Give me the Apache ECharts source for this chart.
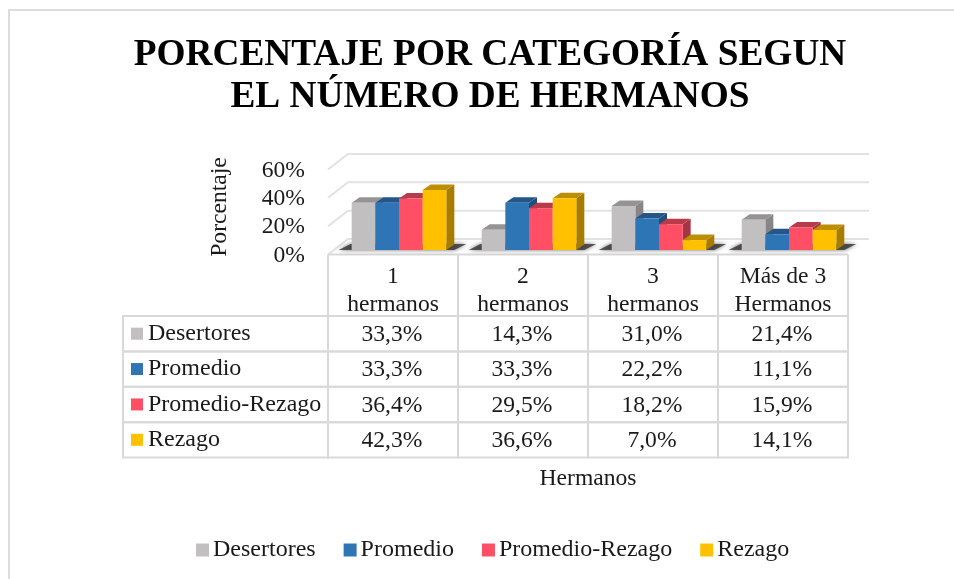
<!DOCTYPE html>
<html><head><meta charset="utf-8">
<style>html,body{margin:0;padding:0;background:#fff}#c{width:954px;height:579px}</style>
<script src="https://cdn.jsdelivr.net/npm/echarts@6/dist/echarts.min.js"></script>
</head><body><div id="c"></div>
<script>
const titleLines = ['PORCENTAJE POR CATEGORÍA SEGUN', 'EL NÚMERO DE HERMANOS'];
const categories = ['1\nhermanos', '2\nhermanos', '3\nhermanos', 'Más de 3\nHermanos'];
const seriesNames = ['Desertores', 'Promedio', 'Promedio-Rezago', 'Rezago'];
const desertores = [33.3, 14.3, 31.0, 21.4];
const promedio = [33.3, 33.3, 22.2, 11.1];
const promedioRezago = [36.4, 29.5, 18.2, 15.9];
const rezago = [42.3, 36.6, 7.0, 14.1];
const yTicks = [0, 20, 40, 60];
const seriesValues = [desertores, promedio, promedioRezago, rezago];
const frontColors = ['#C1BFC0', '#2E75B6', '#FF4F64', '#FFC000'];
const topColors = ['#959394', '#23578A', '#B93A4A', '#BC8E00'];
const sideColors = ['#878586', '#1F4E7B', '#A63443', '#A67D00'];

const FONT = '"Liberation Serif","Times New Roman",serif';
const INK = '#1a1a1a', GRID = '#D9D9D9';
const FS = 23.6, FS_NAME = 24;
const WALL_DX = 20, WALL_DY = 15.5;     // wall offset behind the front floor edge
const BAR_DX = 6, BAR_DY = 4.5;         // bars stand slightly inside the floor
const DEPTH_X = 8, DEPTH_Y = 5.5;       // bar depth
const BAR_FRAC = 0.182;

const poly = (points, fill, extra) => ({type: 'polygon', shape: {points}, style: Object.assign({fill}, extra || {})});

// back wall gridlines
function renderWall(params, api) {
  const cs = params.coordSys, left = cs.x, right = cs.x + cs.width;
  const y = api.coord([0, api.value(0)])[1];
  return {type: 'polyline', shape: {points: [[left, y], [left + WALL_DX, y - WALL_DY], [right + 21, y - WALL_DY]]},
    style: {stroke: '#E2E2E2', lineWidth: 2, fill: null}};
}

// soft shadow under each bar cluster
function renderShadow(params, api) {
  const c = api.coord([api.value(0), 0]);
  const band = api.size([1, 0])[0];
  const w = band * BAR_FRAC;
  const x0 = c[0] + BAR_DX - 2 * w, x1 = c[0] + BAR_DX + 2 * w;
  const yb = c[1] - BAR_DY;
  return poly([[x0 - 13, yb], [x0 - 1, yb - 6], [x1 + 20, yb - 6], [x1 + 8, yb]], 'rgba(60,60,60,0.85)',
    {shadowBlur: 4, shadowColor: 'rgba(60,60,60,0.9)'});
}

function renderBar(idx) {
  return function (params, api) {
    const c = api.coord([api.value(0), api.value(1)]);
    const b = api.coord([api.value(0), 0]);
    const band = api.size([1, 0])[0];
    const w = band * BAR_FRAC;
    const x0 = c[0] + BAR_DX + (idx - 2) * w, x1 = x0 + w;
    const yt = c[1] - BAR_DY, yb = b[1] - BAR_DY;
    const dx = DEPTH_X, dy = DEPTH_Y;
    return {type: 'group', children: [
      poly([[x1, yt], [x1 + dx, yt - dy], [x1 + dx, yb - dy], [x1, yb]], sideColors[idx]),
      poly([[x0, yt], [x0 + dx, yt - dy], [x1 + dx, yt - dy], [x1, yt]], topColors[idx]),
      {type: 'rect', shape: {x: x0, y: yt, width: w, height: yb - yt}, style: {fill: frontColors[idx]}}
    ]};
  };
}

const pct = v => v.toFixed(1).replace('.', ',') + '%';

// table body cells
function renderCell(params, api) {
  const col = api.value(0), row = api.value(1), v = api.value(2);
  const c = api.coord([col, row]);
  const s = api.size([1, 1]);
  return {type: 'group', children: [
    {type: 'rect', shape: {x: c[0] - s[0] / 2, y: c[1] - s[1] / 2, width: s[0], height: s[1]},
      style: {fill: null, stroke: GRID, lineWidth: 2}},
    {type: 'text', x: c[0] - 1, y: c[1] + 1, style: {text: pct(v), fill: INK, font: FS + 'px ' + FONT, align: 'center', verticalAlign: 'middle'}}
  ]};
}

// table row headers, to the left of the first column
function renderHeader(params, api) {
  const row = api.value(0);
  const cs = params.coordSys;
  const c = api.coord([0, row]);
  const h = api.size([1, 1])[1];
  const left = cs.x - 205;
  return {type: 'group', children: [
    {type: 'rect', shape: {x: left, y: c[1] - h / 2, width: 205, height: h}, style: {fill: null, stroke: GRID, lineWidth: 2}},
    {type: 'rect', shape: {x: left + 8, y: c[1] - 6, width: 12, height: 12}, style: {fill: frontColors[row]}},
    {type: 'text', x: left + 25, y: c[1], style: {text: seriesNames[row], fill: INK, font: FS_NAME + 'px ' + FONT, align: 'left', verticalAlign: 'middle'}}
  ]};
}

// header column separators between the floor and the table
function renderHeadCol(params, api) {
  const c = api.coord([api.value(0), 0]);
  const band = api.size([1, 0])[0];
  const x = c[0] - band / 2;
  return {type: 'group', children: [
    {type: 'line', shape: {x1: x, y1: c[1], x2: x, y2: 316}, style: {stroke: GRID, lineWidth: 2}},
    {type: 'line', shape: {x1: x + band, y1: c[1], x2: x + band, y2: 316}, style: {stroke: GRID, lineWidth: 2}},
    {type: 'line', shape: {x1: x, y1: c[1], x2: x + band, y2: c[1]}, style: {stroke: GRID, lineWidth: 2}}
  ]};
}

const colIdx = categories.map((_, i) => i);
const cellData = [];
seriesValues.forEach((arr, r) => arr.forEach((v, c) => cellData.push([c, r, v])));

const option = {
  animation: false,
  backgroundColor: '#fff',
  textStyle: {fontFamily: FONT},
  color: frontColors,
  title: {
    text: titleLines.join('\n'), left: 485, top: 29, textAlign: 'center',
    textStyle: {fontFamily: FONT, fontWeight: 'bold', fontSize: 37.3, lineHeight: 42, color: '#000'}
  },
  legend: {
    data: seriesNames, bottom: 12, left: 191, icon: 'rect', itemWidth: 13, itemHeight: 13, itemGap: 28,
    textStyle: {fontFamily: FONT, fontSize: FS_NAME, color: INK, padding: [0, 0, 0, -1]}
  },
  graphic: [
    {type: 'polyline', silent: true, z: -1, shape: {points: [[9, 579], [9, 10], [954, 10]]}, style: {stroke: '#DCDCDC', lineWidth: 2, fill: null}}
  ],
  grid: [
    {left: 328, top: 169.5, width: 520, height: 85},
    {left: 328, top: 316, width: 520, height: 141.5}
  ],
  xAxis: [
    {type: 'category', gridIndex: 0, data: categories, axisTick: {show: false}, axisLine: {show: false},
      axisLabel: {color: INK, fontFamily: FONT, fontSize: FS, lineHeight: 27.5, margin: 9, interval: 0}},
    {type: 'category', gridIndex: 1, data: categories, position: 'bottom', axisTick: {show: false}, axisLine: {show: false},
      axisLabel: {show: false}, name: 'Hermanos', nameLocation: 'middle', nameGap: 9,
      nameTextStyle: {color: INK, fontFamily: FONT, fontSize: FS}}
  ],
  yAxis: [
    {type: 'value', gridIndex: 0, min: 0, max: 60, interval: 20, splitLine: {show: false}, axisLine: {show: false}, axisTick: {show: false},
      axisLabel: {formatter: '{value}%', color: INK, fontFamily: FONT, fontSize: FS, margin: 23, verticalAlign: 'top', lineHeight: 2},
      name: 'Porcentaje', nameLocation: 'middle', nameGap: 96, nameRotate: 90,
      nameTextStyle: {color: INK, fontFamily: FONT, fontSize: FS, padding: [0, 0, 0, 10]}},
    {type: 'category', gridIndex: 1, inverse: true, data: seriesNames, axisLabel: {show: false}, axisLine: {show: false}, axisTick: {show: false}}
  ],
  series: [
    {type: 'custom', xAxisIndex: 0, yAxisIndex: 0, silent: true, z: 1, clip: false, data: yTicks.map(t => [t]), encode: {y: 0}, renderItem: renderWall},
    {type: 'custom', xAxisIndex: 0, yAxisIndex: 0, silent: true, z: 2, clip: false, data: colIdx.map(i => [i]), encode: {x: 0}, renderItem: renderHeadCol},
    {type: 'custom', xAxisIndex: 0, yAxisIndex: 0, silent: true, z: 3, clip: false, data: colIdx.map(i => [i]), encode: {x: 0}, renderItem: renderShadow}
  ].concat(seriesNames.map((name, i) => ({
    type: 'custom', name, xAxisIndex: 0, yAxisIndex: 0, silent: true, z: 4 + i, clip: false,
    itemStyle: {color: frontColors[i]},
    data: seriesValues[i].map((v, c) => [c, v]), encode: {x: 0, y: 1}, renderItem: renderBar(i)
  }))).concat([
    {type: 'custom', xAxisIndex: 1, yAxisIndex: 1, silent: true, z: 2, clip: false, data: cellData, encode: {x: 0, y: 1}, renderItem: renderCell},
    {type: 'custom', xAxisIndex: 1, yAxisIndex: 1, silent: true, z: 2, clip: false, data: seriesNames.map((_, i) => [i]), encode: {y: 0}, renderItem: renderHeader}
  ])
};
echarts.init(document.getElementById('c'), null, {renderer: 'canvas'}).setOption(option);
</script></body></html>
